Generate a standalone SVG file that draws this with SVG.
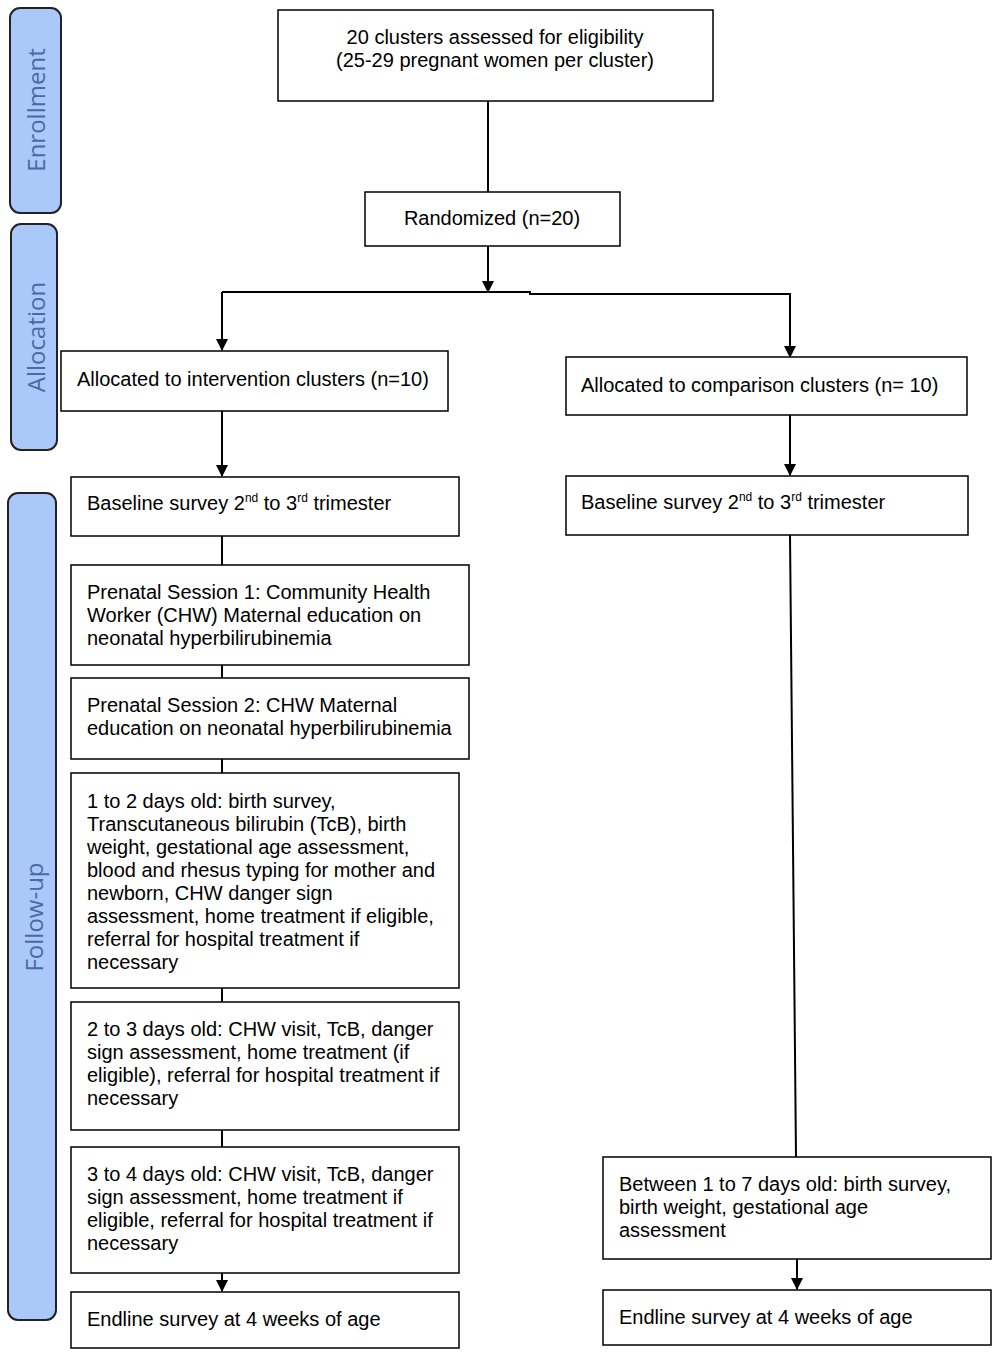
<svg xmlns="http://www.w3.org/2000/svg" width="1000" height="1356" viewBox="0 0 1000 1356">
<defs>
<marker id="arr" markerWidth="12" markerHeight="12" refX="11" refY="6" orient="auto" markerUnits="userSpaceOnUse" viewBox="0 0 12 12">
<path d="M0,0 L12,6 L0,12 Z" fill="#000"/>
</marker>
</defs>
<style>
.box{fill:#fff;stroke:#000;stroke-width:1.5}
.phase{fill:#abc8fa;stroke:#222;stroke-width:2}
.pt{font-family:"Open Sans","DejaVu Sans",sans-serif;font-size:24px;fill:#4a6aa3;text-anchor:middle}
.t{font-family:"Liberation Sans",Arial,sans-serif;font-size:20px;fill:#000}
.c{text-anchor:middle}
.ln{stroke:#000;stroke-width:2;fill:none}
</style>
<rect width="1000" height="1356" fill="#fff"/>
<g id="phase-enrollment">
<rect class="phase" x="10" y="8" width="51" height="205" rx="10"/>
<text class="pt" transform="translate(45,110) rotate(-90)">Enrollment</text>
</g>
<g id="phase-allocation">
<rect class="phase" x="11" y="224" width="46" height="226" rx="10"/>
<text class="pt" transform="translate(45,337) rotate(-90)">Allocation</text>
</g>
<g id="phase-followup">
<rect class="phase" x="8" y="493" width="48" height="827" rx="10"/>
<text class="pt" transform="translate(43,917) rotate(-90)">Follow-up</text>
</g>
<g id="connectors">
<line class="ln" x1="488" y1="101" x2="488" y2="192"/>
<line class="ln" x1="488" y1="246" x2="488" y2="292" marker-end="url(#arr)"/>
<polyline class="ln" points="222,292 530,292 530,294 790,294 790,357" marker-end="url(#arr)"/>
<line class="ln" x1="222" y1="292" x2="222" y2="350" marker-end="url(#arr)"/>
<line class="ln" x1="222" y1="411" x2="222" y2="476" marker-end="url(#arr)"/>
<line class="ln" x1="790" y1="415" x2="790" y2="475" marker-end="url(#arr)"/>
<line class="ln" x1="222" y1="536" x2="222" y2="565"/>
<line class="ln" x1="222" y1="665" x2="222" y2="678"/>
<line class="ln" x1="222" y1="759" x2="222" y2="773"/>
<line class="ln" x1="222" y1="988" x2="222" y2="1002"/>
<line class="ln" x1="222" y1="1130" x2="222" y2="1147"/>
<line class="ln" x1="222" y1="1273" x2="222" y2="1291" marker-end="url(#arr)"/>
<line class="ln" x1="790" y1="535" x2="796" y2="1157"/>
<line class="ln" x1="797" y1="1259" x2="797" y2="1289" marker-end="url(#arr)"/>
</g>
<g id="n-assessed">
<rect class="box" x="278" y="10" width="435" height="91"/>
<text class="t c" x="495" y="44">20 clusters assessed for eligibility</text>
<text class="t c" x="495" y="67">(25-29 pregnant women per cluster)</text>
</g>
<g id="n-randomized">
<rect class="box" x="365" y="192" width="255" height="54"/>
<text class="t c" x="492" y="225">Randomized (n=20)</text>
</g>
<g id="n-int-alloc">
<rect class="box" x="61" y="351" width="387" height="60"/>
<text class="t" x="77" y="386">Allocated to intervention clusters (n=10)</text>
</g>
<g id="n-comp-alloc">
<rect class="box" x="566" y="357" width="401" height="58"/>
<text class="t" x="581" y="392">Allocated to comparison clusters (n= 10)</text>
</g>
<g id="n-int-baseline">
<rect class="box" x="71" y="477" width="388" height="59"/>
<text class="t" x="87" y="510">Baseline survey 2<tspan font-size="12" dy="-8">nd</tspan><tspan dy="8"> to 3</tspan><tspan font-size="12" dy="-8">rd</tspan><tspan dy="8"> trimester</tspan></text>
</g>
<g id="n-comp-baseline">
<rect class="box" x="566" y="476" width="402" height="59"/>
<text class="t" x="581" y="509">Baseline survey 2<tspan font-size="12" dy="-8">nd</tspan><tspan dy="8"> to 3</tspan><tspan font-size="12" dy="-8">rd</tspan><tspan dy="8"> trimester</tspan></text>
</g>
<g id="n-prenatal1">
<rect class="box" x="71" y="565" width="398" height="100"/>
<text class="t" x="87" y="599">Prenatal Session 1: Community Health</text>
<text class="t" x="87" y="622">Worker (CHW) Maternal education on</text>
<text class="t" x="87" y="645">neonatal hyperbilirubinemia</text>
</g>
<g id="n-prenatal2">
<rect class="box" x="71" y="678" width="398" height="81"/>
<text class="t" x="87" y="712">Prenatal Session 2: CHW Maternal</text>
<text class="t" x="87" y="735">education on neonatal hyperbilirubinemia</text>
</g>
<g id="n-day12">
<rect class="box" x="71" y="773" width="388" height="215"/>
<text class="t" x="87" y="808">1 to 2 days old: birth survey,</text>
<text class="t" x="87" y="831">Transcutaneous bilirubin (TcB), birth</text>
<text class="t" x="87" y="854">weight, gestational age assessment,</text>
<text class="t" x="87" y="877">blood and rhesus typing for mother and</text>
<text class="t" x="87" y="900">newborn, CHW danger sign</text>
<text class="t" x="87" y="923">assessment, home treatment if eligible,</text>
<text class="t" x="87" y="946">referral for hospital treatment if</text>
<text class="t" x="87" y="969">necessary</text>
</g>
<g id="n-day23">
<rect class="box" x="71" y="1002" width="388" height="128"/>
<text class="t" x="87" y="1036">2 to 3 days old: CHW visit, TcB, danger</text>
<text class="t" x="87" y="1059">sign assessment, home treatment (if</text>
<text class="t" x="87" y="1082">eligible), referral for hospital treatment if</text>
<text class="t" x="87" y="1105">necessary</text>
</g>
<g id="n-day34">
<rect class="box" x="71" y="1147" width="388" height="126"/>
<text class="t" x="87" y="1181">3 to 4 days old: CHW visit, TcB, danger</text>
<text class="t" x="87" y="1204">sign assessment, home treatment if</text>
<text class="t" x="87" y="1227">eligible, referral for hospital treatment if</text>
<text class="t" x="87" y="1250">necessary</text>
</g>
<g id="n-int-endline">
<rect class="box" x="71" y="1292" width="388" height="56"/>
<text class="t" x="87" y="1326">Endline survey at 4 weeks of age</text>
</g>
<g id="n-comp-birth">
<rect class="box" x="603" y="1157" width="388" height="102"/>
<text class="t" x="619" y="1191">Between 1 to 7 days old: birth survey,</text>
<text class="t" x="619" y="1214">birth weight, gestational age</text>
<text class="t" x="619" y="1237">assessment</text>
</g>
<g id="n-comp-endline">
<rect class="box" x="603" y="1290" width="388" height="55"/>
<text class="t" x="619" y="1324">Endline survey at 4 weeks of age</text>
</g>
</svg>
